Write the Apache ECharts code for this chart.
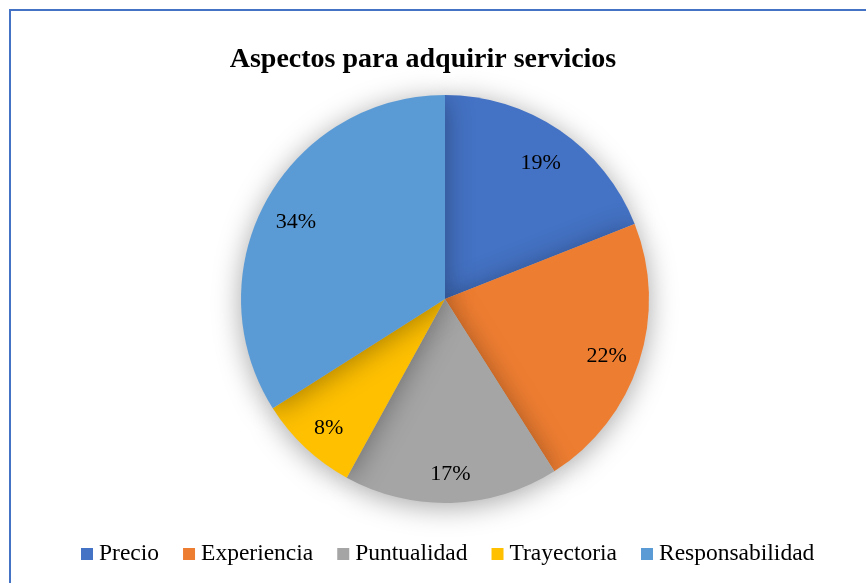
<!DOCTYPE html>
<html>
<head>
<meta charset="utf-8">
<script src="https://cdn.jsdelivr.net/npm/echarts@6/dist/echarts.min.js"></script>
<style>
  html, body { margin: 0; padding: 0; background: #fff; }
  #chart { width: 866px; height: 583px; }
</style>
</head>
<body>
<div id="chart"></div>
<script>
const categories = ['Precio', 'Experiencia', 'Puntualidad', 'Trayectoria', 'Responsabilidad']
const values = [19, 22, 17, 8, 34]
const colors = ['#4472C4', '#ED7D31', '#A5A5A5', '#FFC000', '#5B9BD5']

const serif = '"Liberation Serif", "Times New Roman", serif'
const center = [445, 299]
const radius = 204

const pieData = categories.map((name, i) => ({
  name,
  value: values[i],
  itemStyle: { color: colors[i] }
}))

const chart = echarts.init(document.getElementById('chart'))
chart.setOption({
  animation: false,
  title: {
    text: 'Aspectos para adquirir servicios',
    left: 418,
    top: 41,
    textAlign: 'center',
    textStyle: { fontFamily: serif, fontWeight: 'bold', fontSize: 28, color: '#000' }
  },
  legend: {
    bottom: 12,
    left: 76,
    data: categories,
    icon: 'rect',
    itemWidth: 12,
    itemHeight: 12,
    itemGap: 24,
    textStyle: { fontFamily: serif, fontSize: 23.5, color: '#000', padding: [0, 0, 0, 1] }
  },
  graphic: [{
    type: 'rect',
    shape: { x: 10, y: 10, width: 900, height: 620 },
    style: { fill: 'none', stroke: '#4472C4', lineWidth: 2 },
    silent: true
  }],
  series: [
    {
      type: 'pie',
      center,
      radius: [0, radius],
      startAngle: 90,
      clockwise: true,
      label: { show: false },
      labelLine: { show: false },
      itemStyle: {
        shadowBlur: 28,
        shadowColor: 'rgba(0,0,0,0.35)',
        shadowOffsetX: 0,
        shadowOffsetY: 4
      },
      emphasis: { disabled: true },
      data: pieData
    },
    {
      // transparent ring used only to place the percentage labels
      type: 'pie',
      center: [445, 304],
      radius: [130, radius],
      startAngle: 90,
      clockwise: true,
      silent: true,
      itemStyle: { color: 'transparent' },
      label: {
        show: true,
        position: 'inside',
        formatter: '{d}%',
        fontFamily: serif,
        fontSize: 22,
        color: '#000'
      },
      labelLine: { show: false },
      emphasis: { disabled: true },
      data: categories.map((name, i) => ({ name, value: values[i] }))
    }
  ]
})
</script>
</body>
</html>
